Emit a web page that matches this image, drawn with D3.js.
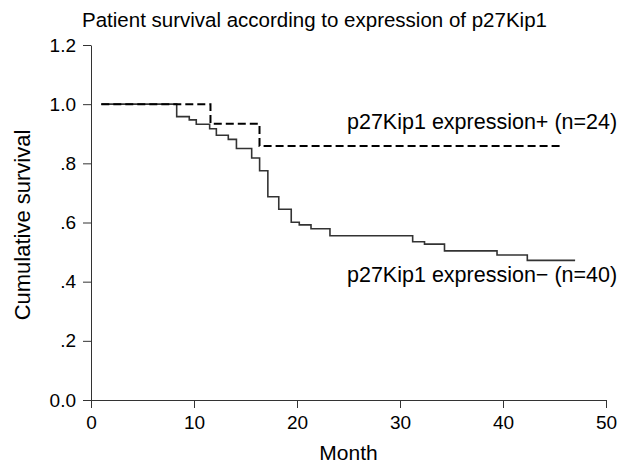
<!DOCTYPE html>
<html>
<head>
<meta charset="utf-8">
<script src="https://cdn.jsdelivr.net/npm/d3@7"></script>
<style>
  body { margin: 0; background: #fff; }
  text { font-family: "Liberation Sans", Arial, sans-serif; fill: #000; }
</style>
</head>
<body>
<div id="chart"></div>
<script>
const svgWidth = 629
const svgHeight = 467

// axis ticks
const monthTicks = [0, 10, 20, 30, 40, 50]
const survTicks = [0, 0.2, 0.4, 0.6, 0.8, 1.0, 1.2]
const survTickLabels = ["0.0", ".2", ".4", ".6", ".8", "1.0", "1.2"]

// p27Kip1 expression- (n=40), solid line
const negMonths = [1, 8.32, 9.54, 10.22, 11.52, 12.17, 13.33, 14.12, 15.6, 16.37, 17.17, 18.23, 19.44, 20.22, 21.36, 23.2, 31.23, 32.38, 34.32, 39.42, 42.36, 47.0]
const negSurvival = [1.0, 0.958, 0.947, 0.932, 0.917, 0.895, 0.881, 0.850, 0.818, 0.775, 0.687, 0.645, 0.601, 0.592, 0.579, 0.555, 0.535, 0.527, 0.504, 0.490, 0.472, 0.472]

// p27Kip1 expression+ (n=24), dashed line
const posMonths = [1, 11.6, 16.36, 45.7]
const posSurvival = [1.0, 0.934, 0.859, 0.859]

const margin = { top: 45, right: 23, bottom: 67, left: 91 }
const width = svgWidth - margin.left - margin.right
const height = svgHeight - margin.top - margin.bottom

let svg = d3.select("#chart")
  .append("svg")
  .attr("width", svgWidth)
  .attr("height", svgHeight)

let chartGroup = svg.append("g")
  .attr("transform", `translate(${margin.left}, ${margin.top})`)

let xScale = d3.scaleLinear().domain([0, 50]).range([0, width])
let yScale = d3.scaleLinear().domain([0, 1.2]).range([height, 0])

// axes
let bottomAxis = d3.axisBottom(xScale)
  .tickValues(monthTicks)
  .tickSize(8)
  .tickSizeOuter(0)
  .tickPadding(8)

let leftAxis = d3.axisLeft(yScale)
  .tickValues(survTicks)
  .tickFormat((d, i) => survTickLabels[i])
  .tickSize(8)
  .tickSizeOuter(0)
  .tickPadding(7)

let xAxis = chartGroup.append("g")
  .attr("transform", `translate(0, ${height})`)
  .call(bottomAxis)

let yAxis = chartGroup.append("g").call(leftAxis)

for (let ax of [xAxis, yAxis]) {
  ax.select(".domain").attr("stroke", "#333")
  ax.selectAll(".tick line").attr("stroke", "#333")
  ax.selectAll(".tick text")
    .attr("fill", "#000")
    .style("font-size", "19px")
    .style("font-family", "Liberation Sans, Arial, sans-serif")
}

// step lines
let stepLine = d3.line()
  .x(d => xScale(d[0]))
  .y(d => yScale(d[1]))
  .curve(d3.curveStepAfter)

chartGroup.append("path")
  .datum(d3.zip(negMonths, negSurvival))
  .attr("d", stepLine)
  .attr("fill", "none")
  .attr("stroke", "#333")
  .attr("stroke-width", 1.6)

chartGroup.append("path")
  .datum(d3.zip(posMonths, posSurvival))
  .attr("d", stepLine)
  .attr("fill", "none")
  .attr("stroke", "#000")
  .attr("stroke-width", 2)
  .attr("stroke-dasharray", "8,4")

// labels
svg.append("text")
  .attr("x", 82)
  .attr("y", 27)
  .style("font-size", "20.5px")
  .text("Patient survival according to expression of p27Kip1")

chartGroup.append("text")
  .attr("x", 256)
  .attr("y", 84)
  .style("font-size", "21.5px")
  .text("p27Kip1 expression+ (n=24)")

chartGroup.append("text")
  .attr("x", 256)
  .attr("y", 237)
  .style("font-size", "21.5px")
  .text("p27Kip1 expression\u2212 (n=40)")

chartGroup.append("text")
  .attr("x", width / 2)
  .attr("y", height + 60)
  .attr("text-anchor", "middle")
  .style("font-size", "21px")
  .text("Month")

chartGroup.append("text")
  .attr("transform", "rotate(-90)")
  .attr("x", -180)
  .attr("y", -61)
  .attr("text-anchor", "middle")
  .style("font-size", "22px")
  .text("Cumulative survival")
</script>
</body>
</html>
